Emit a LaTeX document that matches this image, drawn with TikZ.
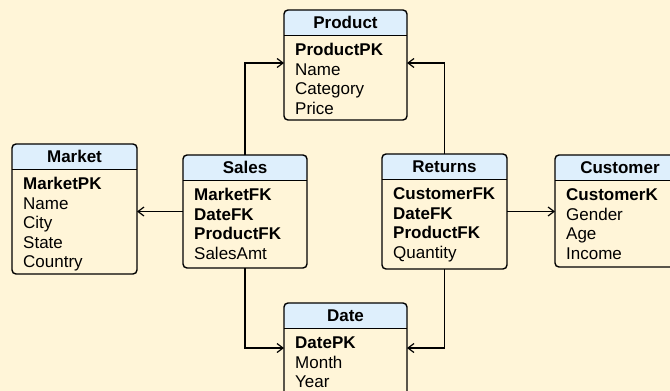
\documentclass[tikz,border=0pt]{standalone}
\usepackage{fontspec}
\setmainfont{Liberation Sans}
\usetikzlibrary{arrows.meta,calc}

\definecolor{paper}{RGB}{255,245,216}
\definecolor{headfill}{RGB}{222,239,252}

\tikzset{
  entbox/.style={draw=black, line width=1.4pt, rounded corners=4pt, fill=paper,
    anchor=north west, inner sep=0pt, outer sep=0pt,
    path picture={\fill[headfill] (path picture bounding box.north west)
      rectangle ([yshift=-25.5pt]path picture bounding box.north east);}},
  divline/.style={line width=1.4pt},
  headtext/.style={anchor=base, inner sep=0pt, font=\fontsize{17}{20}\selectfont\bfseries},
  rowtext/.style={anchor=base west, inner sep=0pt, font=\fontsize{17}{20}\selectfont},
  conn/.style={line width=1.2pt, -{Straight Barb[length=6pt,width=9pt,line width=1.2pt]}},
}

% #1 name, #2 left, #3 top, #4 width, #5 height, #6 title, #7 rows
\newcommand\entity[7]{%
  \node[entbox, minimum width=#4pt, minimum height=#5pt] (#1) at (#2pt,-#3pt) {};
  \draw[divline] ([yshift=-25.5pt]#1.north west) -- ([yshift=-25.5pt]#1.north east);
  \node[headtext] (#1-title) at ([yshift=-18.5pt]#1.north) {#6};
  \foreach \t [count=\i] in {#7}
    \node[rowtext] (#1-\i) at ([xshift=11pt, yshift={-45.5pt-(\i-1)*19.5pt}]#1.north west) {\t};
}

\begin{document}
\begin{tikzpicture}
\useasboundingbox (0,0) rectangle (670pt,-391pt);
\fill[paper] (0,0) rectangle (670pt,-391pt);

\entity{product}{284}{10}{123}{110}{Product}{{\bfseries ProductPK},Name,Category,Price}
\entity{market}{12}{144}{125}{130}{Market}{{\bfseries MarketPK},Name,City,State,Country}
\entity{sales}{183}{155}{124}{113}{Sales}{{\bfseries MarketFK},{\bfseries DateFK},{\bfseries ProductFK},SalesAmt}
\entity{returns}{382}{154}{125}{115}{Returns}{{\bfseries CustomerFK},{\bfseries DateFK},{\bfseries ProductFK},Quantity}
\entity{customer}{555}{155}{130}{112}{Customer}{{\bfseries CustomerK},Gender,Age,Income}
\entity{date}{284}{303}{123}{100}{Date}{{\bfseries DatePK},Month,Year}

% relationships
\draw[conn] (sales.north) |- ([yshift=-53pt]product.north west);
\draw[conn] (returns.north) |- ([yshift=-53pt]product.north east);
\draw[conn] (sales.west) -- (sales.west -| market.east);
\draw[conn] (returns.east) -- (returns.east -| customer.west);
\draw[conn] (sales.south) |- ([yshift=-45pt]date.north west);
\draw[conn] (returns.south) |- ([yshift=-45pt]date.north east);
\end{tikzpicture}
\end{document}
